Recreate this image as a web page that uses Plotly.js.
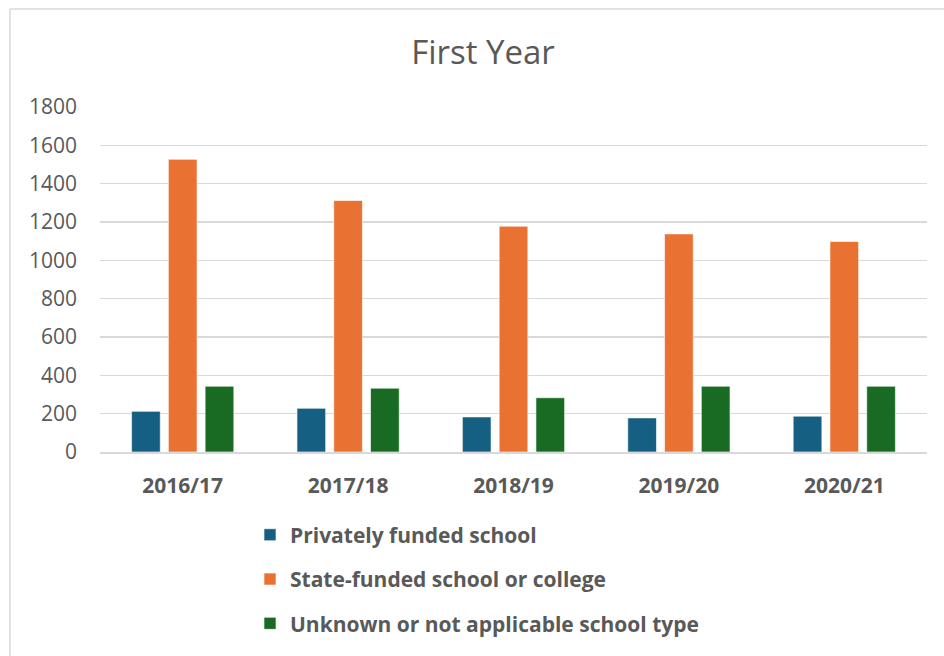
<!DOCTYPE html>
<html>
<head>
<meta charset="utf-8">
<script src="https://cdn.plot.ly/plotly-3.0.1.min.js"></script>
<style>html,body{margin:0;padding:0;background:#fff;}#chart{width:944px;height:656px;}</style>
</head>
<body>
<div id="chart"></div>
<script>
const years = ["2016/17", "2017/18", "2018/19", "2019/20", "2020/21"];
const privatelyFunded = [212, 228, 183, 178, 187];
const stateFunded = [1527, 1312, 1178, 1138, 1098];
const unknownType = [343, 333, 283, 343, 343];
const seriesNames = ["Privately funded school", "State-funded school or college", "Unknown or not applicable school type"];
const seriesColors = ["#156082", "#E97132", "#196B24"];
const yTicks = [0, 200, 400, 600, 800, 1000, 1200, 1400, 1600, 1800];

const values = [privatelyFunded, stateFunded, unknownType];
const traces = values.map((v, i) => ({
  type: "bar",
  x: years,
  y: v,
  name: seriesNames[i],
  legendgroup: "g" + i,
  marker: {color: seriesColors[i], line: {color: "rgba(255,255,255,0.6)", width: 1}},
  hoverinfo: "x+y+name"
}));

const L = 100, R = 927, T = 106.7, B = 454;
const W = R - L, H = B - T;
const px = x => (x - L) / W;
const py = y => (B - y) / H;

const layout = {
  width: 944, height: 656,
  margin: {l: L, r: 944 - R, t: T, b: 656 - B, pad: 0},
  paper_bgcolor: "#fff", plot_bgcolor: "#fff",
  font: {family: "Open Sans, sans-serif", color: "#595959"},
  title: {text: "First Year", x: 483 / 944, xanchor: "center", y: 1 - 52 / 656, yanchor: "middle",
          font: {size: 33, color: "#595959", family: "Open Sans, sans-serif"}},
  barmode: "group",
  bargap: 0.333,
  bargroupgap: 0.22,
  xaxis: {
    type: "category",
    tickangle: 0,
    tickfont: {size: 21, color: "#595959", family: "Open Sans, sans-serif", weight: "bold"},
    showline: true, linecolor: "#D9D9D9", linewidth: 1.5,
    ticks: "", ticklabelstandoff: 14,
    showgrid: false, zeroline: false, fixedrange: true, automargin: false
  },
  yaxis: {
    range: [0, 1800],
    tickvals: yTicks,
    ticktext: yTicks.map(String),
    tickfont: {size: 21, color: "#595959", family: "Open Sans, sans-serif"},
    showgrid: true, gridcolor: "#D9D9D9", gridwidth: 1.5,
    zeroline: false, showline: false, ticks: "", ticklabelstandoff: 22, fixedrange: true, automargin: false
  },
  showlegend: true,
  legend: {
    orientation: "v",
    x: px(250), xanchor: "left",
    y: py(517), yanchor: "top",
    traceorder: "grouped",
    tracegroupgap: 14,
    font: {size: 21, color: "#595959", family: "Open Sans, sans-serif", weight: "bold"},
    bgcolor: "rgba(0,0,0,0)"
  },
  shapes: [
    {type: "line", xref: "paper", yref: "paper", x0: px(10), x1: px(960), y0: py(8), y1: py(8),
     line: {color: "#D9D9D9", width: 1.5}},
    {type: "line", xref: "paper", yref: "paper", x0: px(10), x1: px(10), y0: py(8), y1: py(670),
     line: {color: "#D9D9D9", width: 1.5}}
  ]
};

Plotly.newPlot("chart", traces, layout, {displayModeBar: false, staticPlot: true});
</script>
</body>
</html>
